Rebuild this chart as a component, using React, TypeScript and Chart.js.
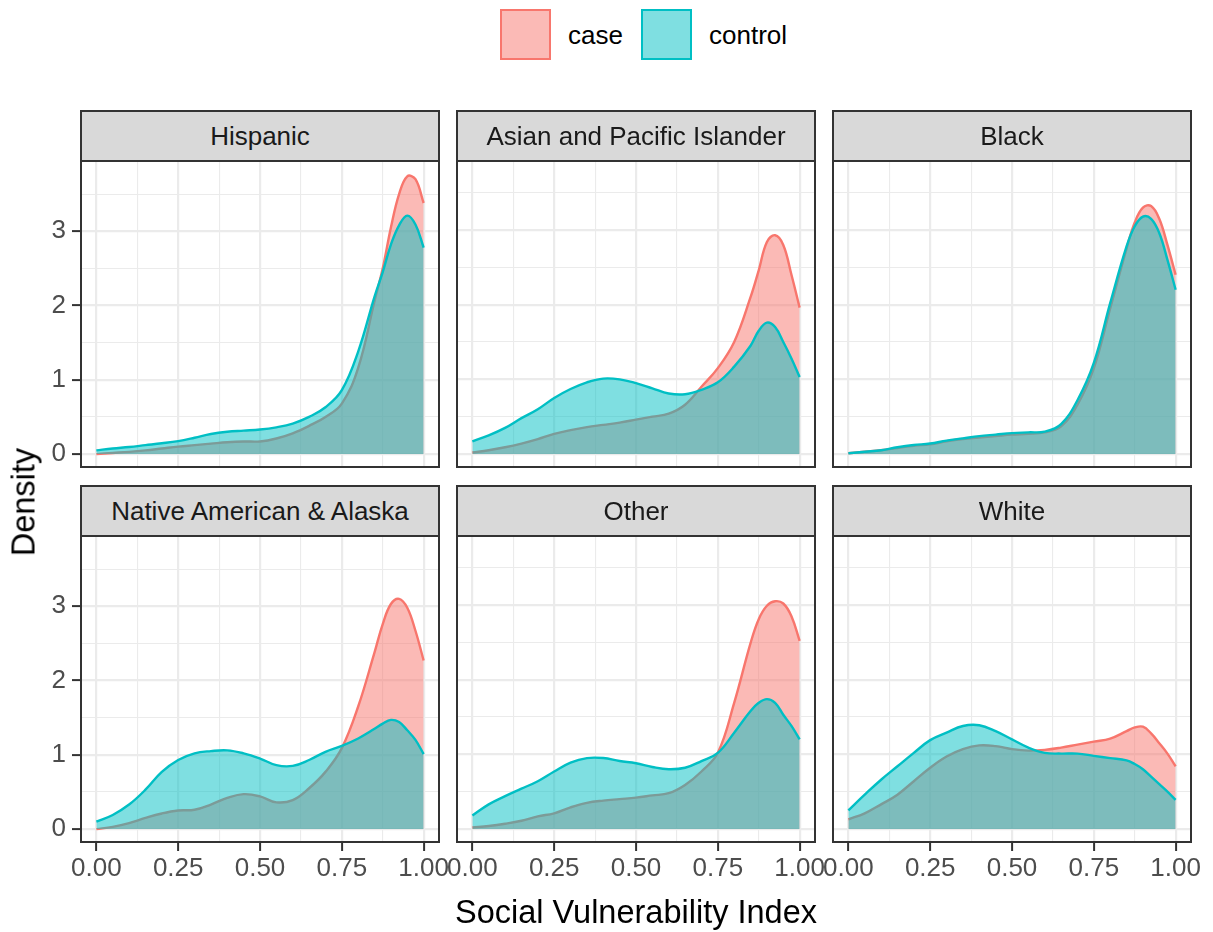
import React, { useEffect, useRef } from 'react';
import { Chart, registerables } from 'chart.js';

Chart.register(...registerables);

const FONT = '"Liberation Sans", Arial, Helvetica, sans-serif';

// ---------- data ----------
const svi = [0, 0.05, 0.1, 0.15, 0.2, 0.25, 0.3, 0.35, 0.4, 0.45, 0.5, 0.55, 0.6, 0.65, 0.7, 0.75, 0.8, 0.85, 0.875, 0.9, 0.925, 0.95, 0.975, 1.0];

const facetTitles = ['Hispanic', 'Asian and Pacific Islander', 'Black', 'Native American & Alaska', 'Other', 'White'];
const groupNames = ['case', 'control'];

const hispanicCase = [0.0, 0.015, 0.03, 0.05, 0.075, 0.1, 0.12, 0.14, 0.16, 0.17, 0.17, 0.21, 0.28, 0.38, 0.5, 0.68, 1.16, 2.06, 2.5, 3.05, 3.5, 3.74, 3.7, 3.38];
const hispanicControl = [0.05, 0.075, 0.095, 0.12, 0.145, 0.175, 0.22, 0.27, 0.3, 0.315, 0.33, 0.36, 0.41, 0.5, 0.63, 0.86, 1.38, 2.12, 2.45, 2.82, 3.08, 3.21, 3.09, 2.78];

const asianCase = [0.02, 0.05, 0.09, 0.14, 0.2, 0.27, 0.32, 0.36, 0.39, 0.42, 0.46, 0.5, 0.54, 0.66, 0.9, 1.15, 1.5, 2.1, 2.46, 2.84, 2.93, 2.8, 2.4, 1.96];
const asianControl = [0.17, 0.25, 0.35, 0.48, 0.6, 0.75, 0.87, 0.96, 1.01, 1.0, 0.95, 0.88, 0.81, 0.8, 0.86, 0.96, 1.17, 1.45, 1.65, 1.76, 1.7, 1.5, 1.28, 1.03];

const blackCase = [0.01, 0.03, 0.05, 0.08, 0.11, 0.13, 0.17, 0.2, 0.22, 0.24, 0.26, 0.27, 0.29, 0.37, 0.66, 1.15, 1.95, 2.75, 3.1, 3.3, 3.32, 3.15, 2.8, 2.4];
const blackControl = [0.01, 0.03, 0.05, 0.09, 0.12, 0.14, 0.18, 0.21, 0.24, 0.26, 0.28, 0.29, 0.3, 0.4, 0.72, 1.22, 2.02, 2.78, 3.05, 3.18, 3.15, 2.96, 2.6, 2.2];

const nativeCase = [0.0, 0.03, 0.08, 0.15, 0.21, 0.25, 0.26, 0.33, 0.42, 0.47, 0.44, 0.36, 0.39, 0.55, 0.77, 1.09, 1.65, 2.38, 2.76, 3.03, 3.1, 2.98, 2.67, 2.27];
const nativeControl = [0.1, 0.19, 0.33, 0.53, 0.77, 0.93, 1.02, 1.05, 1.06, 1.02, 0.95, 0.86, 0.85, 0.93, 1.04, 1.12, 1.22, 1.35, 1.42, 1.47, 1.44, 1.33, 1.2, 1.01];

const otherCase = [0.02, 0.04, 0.07, 0.11, 0.17, 0.21, 0.29, 0.35, 0.38, 0.4, 0.42, 0.45, 0.48, 0.59, 0.77, 1.02, 1.69, 2.49, 2.81, 2.99, 3.05, 3.02, 2.85, 2.52];
const otherControl = [0.18, 0.33, 0.44, 0.54, 0.64, 0.77, 0.89, 0.95, 0.95, 0.91, 0.88, 0.83, 0.8, 0.82, 0.91, 1.02, 1.29, 1.58, 1.69, 1.74, 1.69, 1.53, 1.38, 1.2];

const whiteCase = [0.13, 0.21, 0.33, 0.46, 0.64, 0.82, 0.97, 1.07, 1.12, 1.11, 1.07, 1.05, 1.06, 1.09, 1.13, 1.17, 1.21, 1.31, 1.36, 1.37, 1.28, 1.15, 1.01, 0.84];
const whiteControl = [0.25, 0.46, 0.66, 0.84, 1.02, 1.19, 1.29, 1.38, 1.39, 1.31, 1.2, 1.09, 1.02, 1.01, 1.01, 0.98, 0.95, 0.92, 0.87, 0.8, 0.7, 0.6, 0.5, 0.39];

const caseSeries = [hispanicCase, asianCase, blackCase, nativeCase, otherCase, whiteCase];
const controlSeries = [hispanicControl, asianControl, blackControl, nativeControl, otherControl, whiteControl];

const xTickValues = [0, 0.25, 0.5, 0.75, 1];
const xTickLabels = ['0.00', '0.25', '0.50', '0.75', '1.00'];
const xMinorValues = [0.125, 0.375, 0.625, 0.875];
const yTickValues = [0, 1, 2, 3];
const yTickLabels = ['0', '1', '2', '3'];
const yMinorValues = [0.5, 1.5, 2.5, 3.5];

// ---------- styling / layout ----------
const CASE_LINE = '#F8766D';
const CASE_FILL = 'rgba(248,118,109,0.5)';
const CTRL_LINE = '#00BFC4';
const CTRL_FILL = 'rgba(0,191,196,0.5)';

const COL_LEFT = [80, 456, 832];
const STRIP_TOP = [110, 485];
const PANEL_TOP = [160, 535];
const PANEL_W = 360;
const PANEL_H = 308;
const STRIP_H = 52;
const PAD_L = 70, PAD_R = 30, PAD_T = 20, PAD_B = 60;

const near = (a: number, b: number) => Math.abs(a - b) < 1e-6;
const xLabelFor = (v: number) => {
  const i = xTickValues.findIndex((t) => near(t, v));
  return i >= 0 ? xTickLabels[i] : '';
};
const yLabelFor = (v: number) => {
  const i = yTickValues.findIndex((t) => near(t, v));
  return i >= 0 ? yTickLabels[i] : '';
};
const isMajorX = (v: number) => xTickValues.some((t) => near(t, v));
const isMajorY = (v: number) => yTickValues.some((t) => near(t, v));

function FacetPanel({ index }: { index: number }) {
  const ref = useRef<HTMLCanvasElement | null>(null);
  const row = Math.floor(index / 3);
  const col = index % 3;
  const showY = col === 0;
  const showX = row === 1;
  const yW = showY ? 60 : 0;
  const xH = showX ? 50 : 0;
  const cw = PANEL_W + PAD_L + PAD_R;
  const ch = PANEL_H + PAD_T + PAD_B;

  useEffect(() => {
    if (!ref.current) return;
    const common = {
      pointRadius: 0,
      pointHoverRadius: 0,
      borderWidth: 2.4,
      tension: 0.4,
      fill: 'origin' as const,
    };
    const chart = new Chart(ref.current, {
      type: 'line',
      data: {
        datasets: [
          {
            label: groupNames[0],
            data: svi.map((x, i) => ({ x, y: caseSeries[index][i] })),
            borderColor: CASE_LINE,
            backgroundColor: CASE_FILL,
            order: 2,
            ...common,
          },
          {
            label: groupNames[1],
            data: svi.map((x, i) => ({ x, y: controlSeries[index][i] })),
            borderColor: CTRL_LINE,
            backgroundColor: CTRL_FILL,
            order: 1,
            ...common,
          },
        ],
      },
      options: {
        animation: false,
        responsive: false,
        maintainAspectRatio: false,
        events: [],
        layout: {
          padding: { left: PAD_L - yW, right: PAD_R, top: PAD_T, bottom: PAD_B - xH },
        },
        plugins: {
          legend: { display: false },
          tooltip: { enabled: false },
          title: { display: false },
        },
        scales: {
          x: {
            type: 'linear',
            min: -0.05,
            max: 1.05,
            afterBuildTicks: (s: any) => {
              s.ticks = [...xTickValues, ...xMinorValues].sort((a, b) => a - b).map((v) => ({ value: v }));
            },
            afterFit: (s: any) => {
              s.height = xH;
            },
            border: { display: false },
            grid: {
              color: '#EBEBEB',
              lineWidth: (c: any) => (c.tick && isMajorX(c.tick.value) ? 2.2 : 1.1),
              drawTicks: showX,
              tickLength: 8,
              tickWidth: 2,
              tickColor: (c: any) => (c.tick && isMajorX(c.tick.value) ? '#333333' : 'rgba(0,0,0,0)'),
            },
            ticks: {
              display: showX,
              autoSkip: false,
              maxRotation: 0,
              minRotation: 0,
              padding: 2,
              color: '#4D4D4D',
              font: { family: FONT, size: 26 },
              callback: (v: any) => xLabelFor(Number(v)),
            },
          },
          y: {
            type: 'linear',
            min: -0.1875,
            max: 3.9375,
            afterBuildTicks: (s: any) => {
              s.ticks = [...yTickValues, ...yMinorValues].sort((a, b) => a - b).map((v) => ({ value: v }));
            },
            afterFit: (s: any) => {
              s.width = yW;
            },
            border: { display: false },
            grid: {
              color: '#EBEBEB',
              lineWidth: (c: any) => (c.tick && isMajorY(c.tick.value) ? 2.2 : 1.1),
              drawTicks: showY,
              tickLength: 8,
              tickWidth: 2,
              tickColor: (c: any) => (c.tick && isMajorY(c.tick.value) ? '#333333' : 'rgba(0,0,0,0)'),
            },
            ticks: {
              display: showY,
              autoSkip: false,
              padding: 6,
              color: '#4D4D4D',
              font: { family: FONT, size: 26 },
              callback: (v: any) => yLabelFor(Number(v)),
            },
          },
        },
      },
    });
    return () => chart.destroy();
  }, [index]);

  return (
    <canvas
      ref={ref}
      width={cw}
      height={ch}
      style={{
        position: 'absolute',
        left: COL_LEFT[col] - PAD_L,
        top: PANEL_TOP[row] - PAD_T,
        width: cw,
        height: ch,
        display: 'block',
      }}
    />
  );
}

function Strip({ index }: { index: number }) {
  const row = Math.floor(index / 3);
  const col = index % 3;
  return (
    <div
      style={{
        position: 'absolute',
        left: COL_LEFT[col],
        top: STRIP_TOP[row],
        width: PANEL_W,
        height: STRIP_H,
        boxSizing: 'border-box',
        background: '#D9D9D9',
        border: '2px solid #333333',
        display: 'flex',
        alignItems: 'center',
        justifyContent: 'center',
        fontFamily: FONT,
        fontSize: 26,
        color: '#1A1A1A',
        whiteSpace: 'nowrap',
      }}
    >
      {facetTitles[index]}
    </div>
  );
}

function PanelBorder({ index }: { index: number }) {
  const row = Math.floor(index / 3);
  const col = index % 3;
  return (
    <div
      style={{
        position: 'absolute',
        left: COL_LEFT[col],
        top: PANEL_TOP[row],
        width: PANEL_W,
        height: PANEL_H,
        boxSizing: 'border-box',
        border: '2px solid #333333',
        pointerEvents: 'none',
      }}
    />
  );
}

function LegendKey({ left, fill, line, label, textLeft }: any) {
  return (
    <>
      <div
        style={{
          position: 'absolute',
          left,
          top: 9,
          width: 51,
          height: 51,
          boxSizing: 'border-box',
          background: fill,
          border: `2px solid ${line}`,
        }}
      />
      <div
        style={{
          position: 'absolute',
          left: textLeft,
          top: 34.5,
          transform: 'translateY(-50%)',
          fontFamily: FONT,
          fontSize: 26,
          color: '#000000',
          whiteSpace: 'nowrap',
        }}
      >
        {label}
      </div>
    </>
  );
}

export default function App() {
  const idx = [0, 1, 2, 3, 4, 5];
  return (
    <div
      style={{
        position: 'absolute',
        left: 0,
        top: 0,
        width: 1213,
        height: 932,
        background: '#FFFFFF',
        overflow: 'hidden',
      }}
    >
      {idx.map((i) => (
        <FacetPanel key={'c' + i} index={i} />
      ))}
      {idx.map((i) => (
        <PanelBorder key={'b' + i} index={i} />
      ))}
      {idx.map((i) => (
        <Strip key={'s' + i} index={i} />
      ))}
      <LegendKey left={500} fill={CASE_FILL} line={CASE_LINE} label={groupNames[0]} textLeft={568} />
      <LegendKey left={641} fill={CTRL_FILL} line={CTRL_LINE} label={groupNames[1]} textLeft={709} />
      <div
        style={{
          position: 'absolute',
          left: 636,
          top: 912,
          transform: 'translate(-50%, -50%)',
          fontFamily: FONT,
          fontSize: 32.5,
          color: '#000000',
          whiteSpace: 'nowrap',
        }}
      >
        Social Vulnerability Index
      </div>
      <div
        style={{
          position: 'absolute',
          left: 24,
          top: 502,
          transform: 'translate(-50%, -50%) rotate(-90deg)',
          fontFamily: FONT,
          fontSize: 32.5,
          color: '#000000',
          whiteSpace: 'nowrap',
        }}
      >
        Density
      </div>
    </div>
  );
}
